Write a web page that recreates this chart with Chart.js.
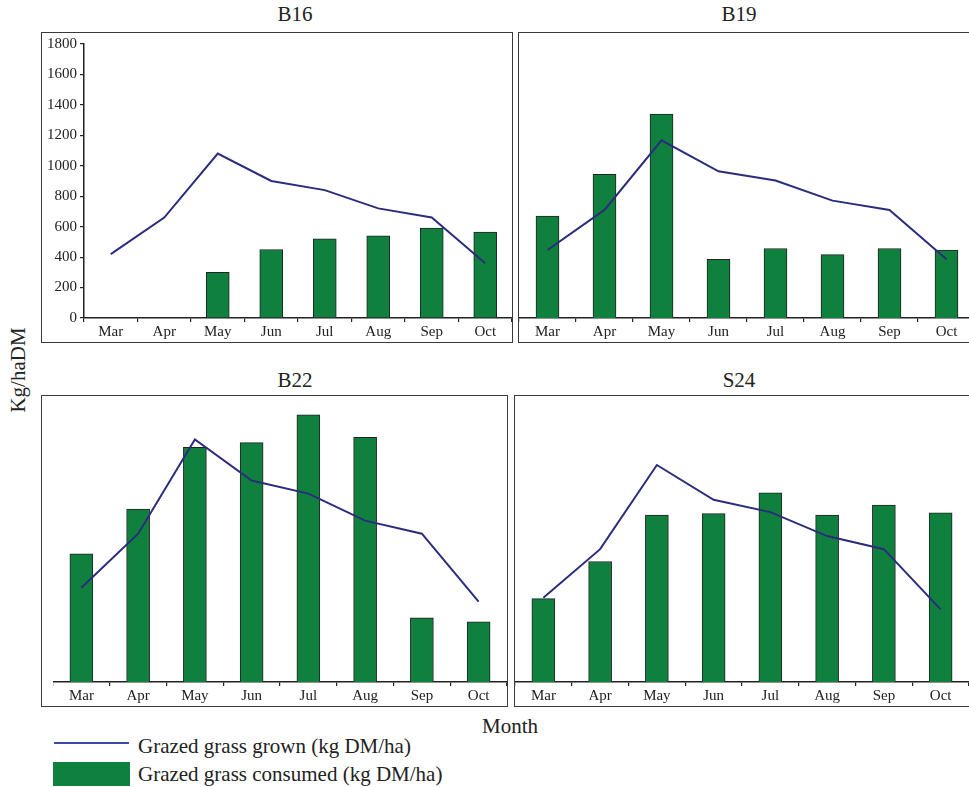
<!DOCTYPE html>
<html>
<head>
<meta charset="utf-8">
<title>Grazed grass grown and consumed</title>
<script src="https://cdn.jsdelivr.net/npm/chart.js@4.4.1/dist/chart.umd.min.js"></script>
<style>
  html, body { margin: 0; padding: 0; background: #fff; overflow: hidden; }
  body { position: relative; width: 969px; height: 787px; font-family: "Liberation Serif", "DejaVu Serif", serif; color: #222; }
  .box { position: absolute; border: 1.5px solid #3a3a3a; box-sizing: border-box; }
  .txt { position: absolute; font-size: 21px; line-height: 21px; white-space: nowrap; }
  .ctr { transform: translateX(-50%); }
  canvas { position: absolute; }
</style>
</head>
<body>

<div class="box" style="left:41px;top:32px;width:472px;height:311px"></div>
<div class="box" style="left:518px;top:32px;width:460px;height:311px"></div>
<div class="box" style="left:41px;top:395px;width:467px;height:312px"></div>
<div class="box" style="left:514px;top:395px;width:460px;height:312px"></div>

<div class="txt ctr" style="left:295px;top:4px">B16</div>
<div class="txt ctr" style="left:739px;top:4px">B19</div>
<div class="txt ctr" style="left:295px;top:370px">B22</div>
<div class="txt ctr" style="left:739px;top:370px">S24</div>

<div class="txt" style="left:18px;top:370px;transform:translate(-50%,-50%) rotate(-90deg)">Kg/haDM</div>
<div class="txt ctr" style="left:510px;top:716px">Month</div>

<div style="position:absolute;left:54px;top:742px;width:75px;height:2px;background:#3a4aa6"></div>
<div class="txt" style="left:138px;top:736px">Grazed grass grown (kg DM/ha)</div>
<div style="position:absolute;left:53px;top:762px;width:77px;height:24px;background:#10803f"></div>
<div class="txt" style="left:138px;top:764px">Grazed grass consumed (kg DM/ha)</div>

<canvas id="b16" width="471" height="311" style="left:41px;top:32px"></canvas>
<canvas id="b19" width="456" height="311" style="left:519px;top:32px"></canvas>
<canvas id="b22" width="454" height="312" style="left:53px;top:395px"></canvas>
<canvas id="s24" width="454" height="312" style="left:515px;top:395px"></canvas>

<script>
const months = ['Mar', 'Apr', 'May', 'Jun', 'Jul', 'Aug', 'Sep', 'Oct'];
const yTicks = [0, 200, 400, 600, 800, 1000, 1200, 1400, 1600, 1800];

// kg DM/ha per month, per farm
const b16Grown = [420, 660, 1080, 900, 840, 720, 660, 360];
const b16Consumed = [null, null, 300, 450, 520, 540, 590, 565];
const b19Grown = [440, 700, 1150, 950, 890, 760, 700, 380];
const b19Consumed = [660, 930, 1320, 380, 450, 410, 450, 440];
const b22Grown = [610, 960, 1570, 1305, 1220, 1045, 960, 520];
const b22Consumed = [830, 1120, 1520, 1550, 1730, 1585, 415, 390];
const s24Grown = [545, 860, 1405, 1180, 1100, 945, 860, 470];
const s24Consumed = [540, 780, 1080, 1090, 1225, 1080, 1145, 1095];

const lineColor = '#2b2c7c';
const barColor = '#10803f';
const inkColor = '#222';

function drawPanel(id, grown, consumed, showY, topPad) {
  const el = document.getElementById(id);
  return new Chart(el, {
    data: {
      labels: months,
      datasets: [{
        type: 'line',
        label: 'Grazed grass grown (kg DM/ha)',
        data: grown,
        borderColor: lineColor,
        borderWidth: 2,
        pointRadius: 0,
        tension: 0,
        order: 0,
      }, {
        type: 'bar',
        label: 'Grazed grass consumed (kg DM/ha)',
        data: consumed,
        backgroundColor: barColor,
        borderColor: inkColor,
        borderWidth: 1,
        barThickness: 23,
        order: 1,
      }],
    },
    options: {
      responsive: false,
      animation: false,
      events: [],
      layout: { padding: { top: topPad, left: 0, right: 0, bottom: 0 } },
      plugins: {
        legend: { display: false },
        tooltip: { enabled: false },
      },
      scales: {
        x: {
          offset: true,
          afterFit: (s) => { s.height = 25; },
          border: { display: true, color: inkColor, width: 1.5 },
          grid: { offset: true, drawOnChartArea: false, color: inkColor, tickLength: 4, lineWidth: 1.2 },
          ticks: {
            color: inkColor,
            padding: 1,
            maxRotation: 0,
            font: { family: 'Liberation Serif', size: 15 },
          },
        },
        y: {
          display: showY,
          min: 0,
          max: 1800,
          // only the first panel carries a visible value axis
          afterFit: (s) => { s.width = showY ? 43 : 0; },
          afterBuildTicks: (s) => { s.ticks = yTicks.map(v => ({ value: v })); },
          border: { display: true, color: inkColor, width: 1.5 },
          grid: { drawOnChartArea: false, color: inkColor, tickLength: 4, lineWidth: 1.2 },
          ticks: {
            color: inkColor,
            padding: 3,
            font: { family: 'Liberation Serif', size: 15 },
            callback: (v) => String(v),
          },
        },
      },
    },
  });
}

drawPanel('b16', b16Grown, b16Consumed, true, 8);
drawPanel('b19', b19Grown, b19Consumed, false, 8);
drawPanel('b22', b22Grown, b22Consumed, false, 9);
drawPanel('s24', s24Grown, s24Consumed, false, 9);
</script>
</body>
</html>
